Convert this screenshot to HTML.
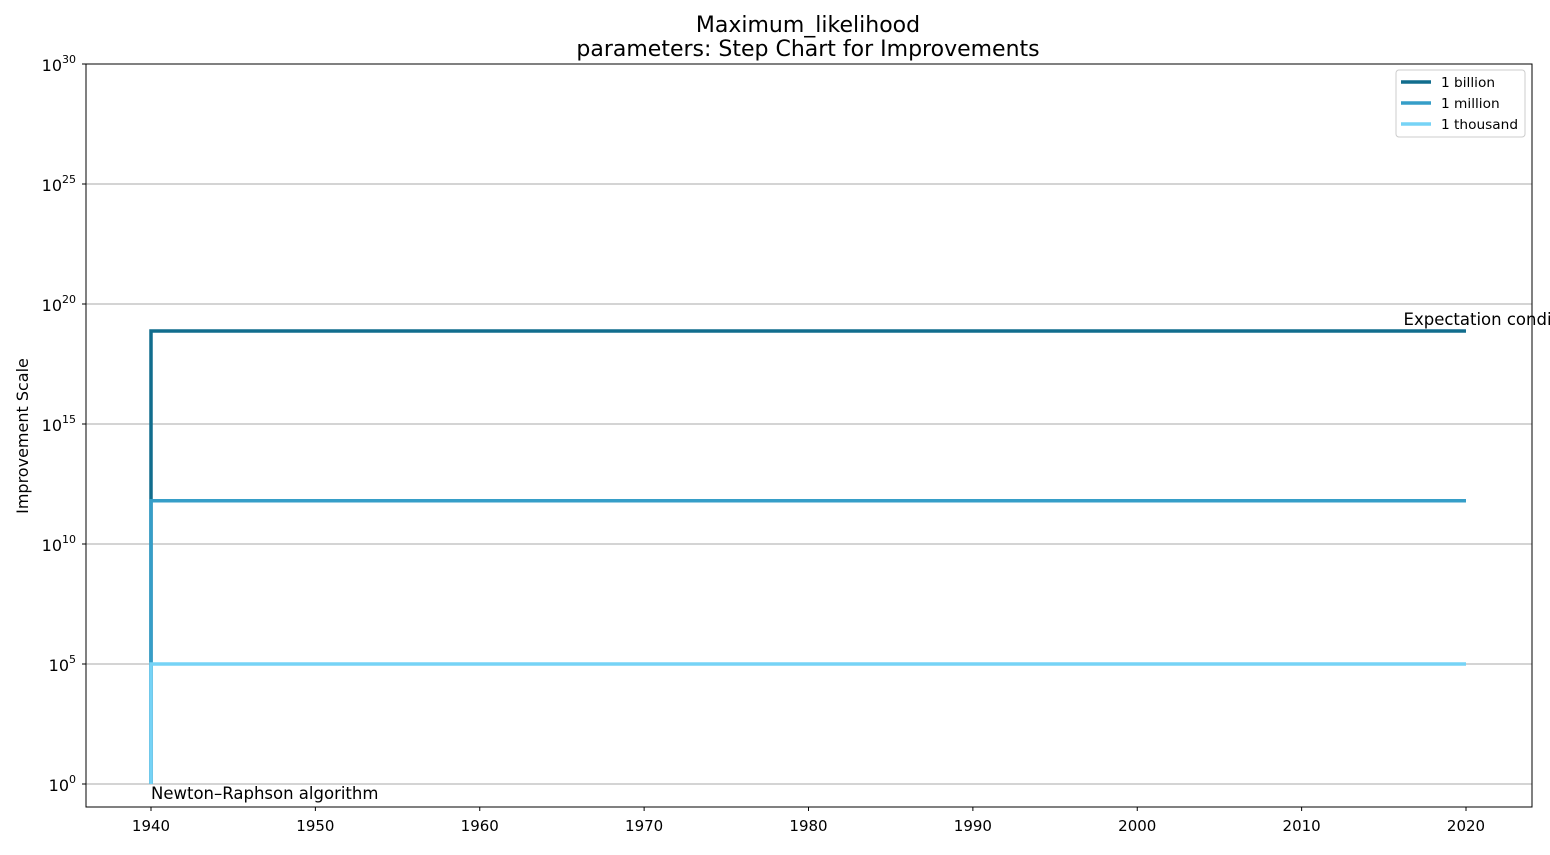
<!DOCTYPE html>
<html><head><meta charset="utf-8"><style>
body{margin:0;background:#fff;}
svg{font-family:"DejaVu Sans","Liberation Sans",sans-serif;}
</style></head><body>
<svg id="chart" width="1550" height="850" xmlns="http://www.w3.org/2000/svg">
<rect width="1550" height="850" fill="#fff"/>
<text x="808" y="32" font-size="22" text-anchor="middle">Maximum_likelihood</text>
<text x="808" y="56" font-size="22" text-anchor="middle">parameters: Step Chart for Improvements</text>
<g id="grid"></g>
<g id="series"></g>
<rect x="86" y="64" width="1446" height="743" fill="none" stroke="#000" stroke-width="1"/>
<g id="xticks"></g><g id="yticks"></g>
<text transform="translate(28,436) rotate(-90)" font-size="16" text-anchor="middle">Improvement Scale</text>
<g id="annots"></g>
<g id="legend"></g>
</svg>
<script>
const years=[1940,2020];
const seriesNames=["1 billion","1 million","1 thousand"];
const seriesLog=[18.875,11.8,5];
const seriesColors=["#116d8d","#369ec8","#76d3f6"];
const xTicks=[1940,1950,1960,1970,1980,1990,2000,2010,2020];
const yTicks=[0,5,10,15,20,25,30];
const annotations=[{t:"Newton–Raphson algorithm",year:1940,log:0},{t:"Expectation conditional maximization",year:2016.2,log:19.3}];
const NS="http://www.w3.org/2000/svg";
function X(v){return 151+(v-1940)*(1466-151)/80;}
function Y(l){return 784-l*24;}
function mk(tag,attrs,parent,text){const e=document.createElementNS(NS,tag);for(const k in attrs)e.setAttribute(k,attrs[k]);if(text!==undefined)e.textContent=text;document.getElementById(parent).appendChild(e);return e;}
yTicks.forEach(t=>{
 const g=mk('line',{x1:86,x2:1532,y1:Y(t),y2:Y(t),stroke:'#a8a8a8','stroke-width':1},'grid');
 
 
 const tk=mk('line',{x1:82,x2:86,y1:Y(t),y2:Y(t),stroke:'#000'},'yticks');
 
 
 const tx=mk('text',{x:76,y:Y(t)+7,'font-size':16,'text-anchor':'end'},'yticks');
 
 
 tx.innerHTML='10<tspan dy="-8" font-size="11">'+t+'</tspan>';
});
xTicks.forEach(t=>{
 const tk=mk('line',{x1:X(t),x2:X(t),y1:807,y2:811,stroke:'#000'},'xticks');
 
 
 const tx=mk('text',{x:X(t),y:831,'font-size':15,'text-anchor':'middle'},'xticks',String(t));
 
 
});
seriesLog.forEach((v,i)=>{
 const d='M'+X(years[0])+','+Y(0)+' L'+X(years[0])+','+Y(v)+' L'+X(years[1])+','+Y(v);
 const p=mk('path',{d:d,fill:'none',stroke:seriesColors[i],'stroke-width':3.5},'series');
 
 
});
annotations.forEach(a=>{
 const t=mk('text',{x:X(a.year),y:Y(a.log)+15,'font-size':16.5},'annots',a.t);
 if(a.log>0)t.setAttribute('y',Y(a.log)+4);
 
 
});
const lb=mk('rect',{x:1396,y:70,width:129,height:67,fill:'#fff',stroke:'#ccc',rx:3},'legend');


seriesNames.forEach((n,i)=>{
 const y=82+i*21;
 const l=mk('line',{x1:1401,x2:1431,y1:y,y2:y,stroke:seriesColors[i],'stroke-width':3.5},'legend');
 
 
 const t=mk('text',{x:1441,y:y+5,'font-size':13.7},'legend',n);
 
 
});
</script>
</body></html>
